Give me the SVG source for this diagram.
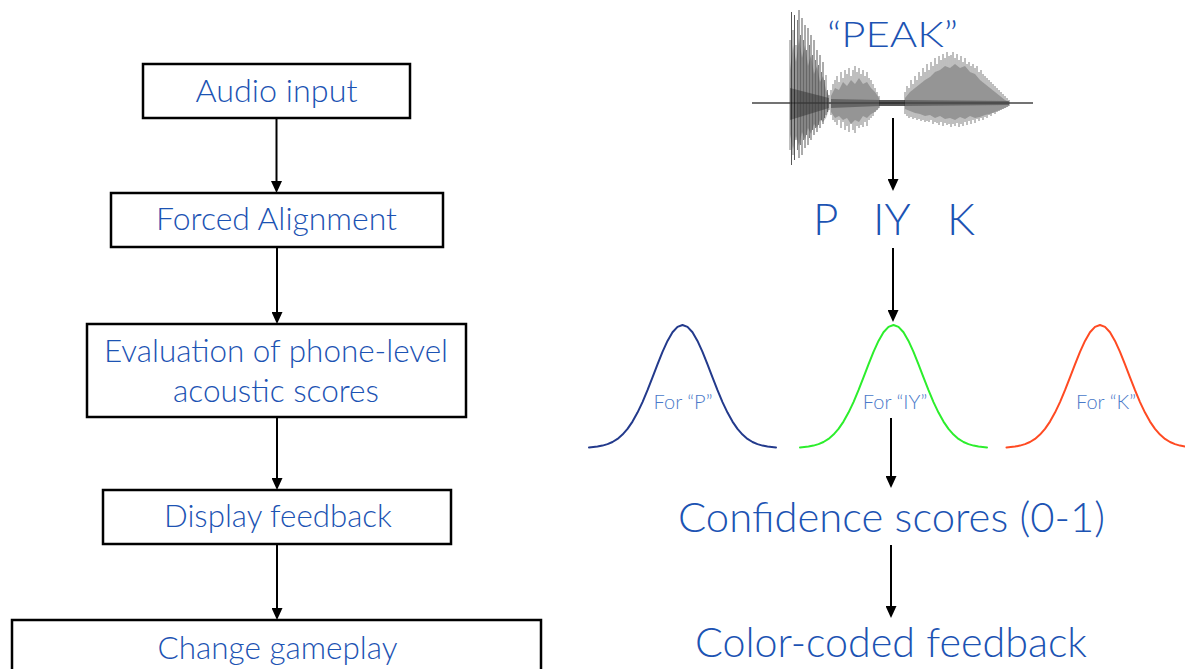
<svg xmlns="http://www.w3.org/2000/svg" xmlns:xlink="http://www.w3.org/1999/xlink" width="1185" height="669" viewBox="0 0 1185 669">
  <style>
    .box { fill: #ffffff; stroke: #000000; stroke-width: 2.5; }
    .lbl { font-family: Lato, "Open Sans", "Liberation Sans", sans-serif; font-weight: 300; fill: #1c53b3; text-anchor: middle; }
    .small { font-family: Lato, "Open Sans", "Liberation Sans", sans-serif; font-weight: 300; fill: #4a79c9; text-anchor: middle; font-size: 20px; }
    .edge { stroke: #000000; stroke-width: 2; fill: none; marker-end: url(#head); }
    .curve { fill: none; stroke-width: 2; stroke-linejoin: round; stroke-linecap: round; }
    .wave { stroke: #2a2a2a; stroke-width: 1; opacity: 0.6; fill: none; }
    .wave2 { stroke: #111111; stroke-width: 1; opacity: 0.7; fill: none; }
    .core { fill: #555555; opacity: 0.35; }
  </style>
  <defs>
    <marker id="head" markerUnits="userSpaceOnUse" viewBox="0 0 12 11" markerWidth="12" markerHeight="11" refX="9" refY="5.5" orient="auto">
      <path d="M0,0 L12,5.5 L0,11 Z" fill="#000000"/>
    </marker>
    <!-- bell curve, peak at (0,0), base at y=123 -->
    <path id="bell" d="M-93.5,122.4 L-85,121.6 L-80,120.6 L-75,119.1 L-70,117 L-65,113.9 L-60,109.6 L-55,103.9 L-50,96.6 L-45,87.6 L-40,77.1 L-35,65.2 L-30,52.3 L-25,39.3 L-20,26.8 L-15,15.9 L-10,7.3 L-5,1.9 L0,0 L5,1.9 L10,7.3 L15,15.9 L20,26.8 L25,39.3 L30,52.3 L35,65.2 L40,77.1 L45,87.6 L50,96.6 L55,103.9 L60,109.6 L65,113.9 L70,117 L75,119.1 L80,120.6 L85,121.6 L93.5,122.4"/>
  </defs>

  <rect width="1185" height="669" fill="#ffffff"/>

  <!-- left flow chart -->
  <g id="audio-input">
    <rect class="box" x="143" y="64" width="267" height="54"/>
    <text class="lbl" x="276.5" y="102" font-size="31" textLength="162" lengthAdjust="spacingAndGlyphs">Audio input</text>
  </g>
  <g id="forced-alignment">
    <rect class="box" x="111" y="193" width="332" height="54"/>
    <text class="lbl" x="276.5" y="230" font-size="31" textLength="241" lengthAdjust="spacingAndGlyphs">Forced Alignment</text>
  </g>
  <g id="evaluation">
    <rect class="box" x="87" y="324" width="379" height="93"/>
    <text class="lbl" x="276" y="362" font-size="31" textLength="344" lengthAdjust="spacingAndGlyphs">Evaluation of phone-level</text>
    <text class="lbl" x="276" y="402" font-size="31" textLength="206" lengthAdjust="spacingAndGlyphs">acoustic scores</text>
  </g>
  <g id="display-feedback">
    <rect class="box" x="103" y="490" width="348" height="54"/>
    <text class="lbl" x="278" y="527" font-size="31" textLength="228" lengthAdjust="spacingAndGlyphs">Display feedback</text>
  </g>
  <g id="change-gameplay">
    <rect class="box" x="12" y="620" width="529" height="70"/>
    <text class="lbl" x="277.5" y="659" font-size="31" textLength="240" lengthAdjust="spacingAndGlyphs">Change gameplay</text>
  </g>

  <!-- right pipeline: waveform of the spoken word -->
  <g id="waveform">
    <line x1="752" y1="103" x2="1033" y2="103" stroke="#444444" stroke-width="1.3"/>
    <!-- jagged dense cores of the three voiced bursts -->
    <path class="core" d="M790,70 L793,45 L796,62 L799,38 L802,58 L805,45 L808,66 L811,55 L814,74 L817,66 L820,82 L823,76 L826,90 L829,96 L829,110 L826,118 L823,122 L820,120 L817,128 L814,124 L811,134 L808,128 L805,140 L802,132 L799,146 L796,136 L793,150 L790,134 Z"/>
    <path class="core" d="M831,96 L835,88 L839,90 L843,82 L847,86 L851,80 L855,84 L859,78 L863,84 L867,82 L871,88 L875,92 L879,98 L879,108 L875,112 L871,114 L867,118 L863,116 L859,122 L855,120 L851,124 L847,118 L843,120 L839,116 L835,118 L831,112 Z"/>
    <path class="core" d="M905,98 L910,92 L915,88 L920,84 L925,80 L930,77 L935,72 L940,70 L945,66 L950,68 L955,64 L960,68 L965,66 L970,72 L975,74 L980,80 L985,84 L990,88 L995,92 L1000,96 L1005,100 L1009,102 L1009,106 L1005,108 L1000,110 L995,112 L990,114 L985,115 L980,117 L975,118 L970,116 L965,119 L960,117 L955,120 L950,118 L945,119 L940,116 L935,118 L930,115 L925,116 L920,114 L915,113 L910,111 L905,109 Z"/>
    <path class="core" d="M790,88 L829,98 L829,108 L790,120 Z" style="opacity:0.6"/>
    <path class="core" d="M831,99 L879,100 L879,106 L831,108 Z" style="opacity:0.6"/>
    <path class="core" d="M905,100 L1009,101 L1009,105 L905,106 Z" style="opacity:0.6"/>
    <rect x="879" y="100" width="26" height="6" fill="#222222" opacity="0.75"/>
    <path class="wave2" d="M791.5,12V165 M794.5,15V160 M799,10V158 M802,18V155 M805,25V148 M808,28V145 M811,35V140 M814,40V135 M817,50V132 M820,55V128 M823,62V124"/>
    <path class="wave" d="M790,40V150 M793,30V155 M796,45V140 M797.5,20V150 M800.5,35V145 M803.5,40V140 M806.5,50V135 M809.5,45V138 M812.5,55V130 M815.5,60V128 M818.5,65V125 M821.5,72V120 M824.5,80V118 M826,75V115 M827.5,90V112 M829,95V110"/>
    <path class="wave" d="M831,90V115 M833,84V120 M835,80V122 M837,76V125 M839,82V120 M841,72V128 M843,78V122 M845,70V130 M847,74V126 M849,68V132 M851,76V124 M853,70V130 M855,66V133 M857,72V126 M859,68V128 M861,74V125 M863,70V127 M865,76V122 M867,72V126 M869,78V120 M871,80V118 M873,84V116 M875,88V112 M877,92V110 M879,96V108"/>
    <path class="wave" d="M905,92V114 M907,86V116 M909,88V118 M911,80V117 M913,84V119 M915,76V118 M917,80V120 M919,72V119 M921,76V121 M923,68V120 M925,72V122 M927,64V121 M929,70V122 M931,62V120 M933,66V124 M935,58V122 M937,64V123 M939,56V125 M941,60V122 M943,54V126 M945,58V123 M947,52V125 M949,56V124 M951,55V127 M953,52V124 M955,58V126 M957,54V123 M959,60V127 M961,56V124 M963,62V126 M965,58V122 M967,64V125 M969,62V121 M971,66V124 M973,64V120 M975,68V123 M977,66V119 M979,72V121 M981,70V118 M983,74V120 M985,76V117 M987,78V118 M989,80V115 M991,82V116 M993,84V113 M995,86V114 M997,88V112 M999,90V111 M1001,92V110 M1003,94V109 M1005,96V108 M1007,98V107 M1009,100V106"/>
  </g>
  <g id="word">
    <text class="lbl" x="892.5" y="47" font-size="36" textLength="131" lengthAdjust="spacingAndGlyphs">“PEAK”</text>
  </g>
  <g id="phones">
    <text class="lbl" font-size="44" style="text-anchor:start"><tspan x="813" y="235">P </tspan><tspan x="873" y="235">IY </tspan><tspan x="947" y="235">K</tspan></text>
  </g>
  <g id="model-p">
    <use href="#bell" xlink:href="#bell" x="682.5" y="325" class="curve" stroke="#233a8c"/>
    <text class="small" x="683" y="409">For “P”</text>
  </g>
  <g id="model-iy">
    <use href="#bell" xlink:href="#bell" x="893.5" y="325" class="curve" stroke="#2cee2c"/>
    <text class="small" x="895" y="409">For “IY”</text>
  </g>
  <g id="model-k">
    <use href="#bell" xlink:href="#bell" x="1100" y="325" class="curve" stroke="#ff4a22"/>
    <text class="small" x="1106" y="409">For “K”</text>
  </g>
  <g id="confidence">
    <text class="lbl" x="891.5" y="532" font-size="42" textLength="427" lengthAdjust="spacingAndGlyphs">Confidence scores (0-1)</text>
  </g>
  <g id="color-feedback">
    <text class="lbl" x="891" y="657" font-size="41" textLength="392" lengthAdjust="spacingAndGlyphs">Color-coded feedback</text>
  </g>

  <g id="connectors">
    <line class="edge" x1="276.5" y1="118" x2="276.5" y2="190"/>
    <line class="edge" x1="277" y1="247" x2="277" y2="321"/>
    <line class="edge" x1="277" y1="417" x2="277" y2="487"/>
    <line class="edge" x1="277" y1="544" x2="277" y2="617"/>
    <line class="edge" x1="893" y1="118" x2="893" y2="188"/>
    <line class="edge" x1="893" y1="248" x2="893" y2="319"/>
    <line class="edge" x1="891" y1="418" x2="891" y2="485"/>
    <line class="edge" x1="891" y1="545" x2="891" y2="615"/>
  </g>
</svg>
